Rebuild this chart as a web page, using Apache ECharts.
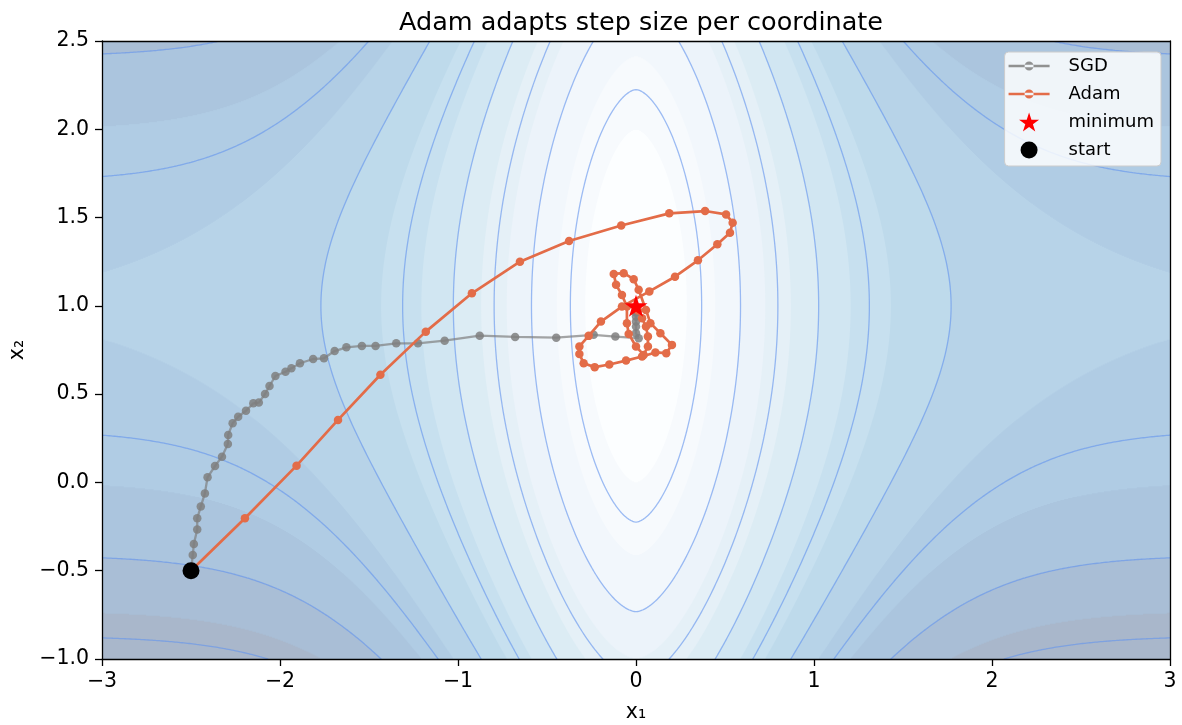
<!DOCTYPE html>
<html>
<head>
<meta charset="utf-8">
<script src="https://cdn.jsdelivr.net/npm/echarts@6/dist/echarts.min.js"></script>
<style>
html,body{margin:0;padding:0;background:#ffffff;}
#chart{width:1182px;height:725px;}
</style>
</head>
<body>
<div id="chart"></div>
<script>
// ---------------- data ----------------
const X_TICKS = [-3, -2, -1, 0, 1, 2, 3];
const X_TICK_LABELS = ['\u22123', '\u22122', '\u22121', '0', '1', '2', '3'];
const Y_TICKS = [-1.0, -0.5, 0.0, 0.5, 1.0, 1.5, 2.0, 2.5];
const Y_TICK_LABELS = ['\u22121.0', '\u22120.5', '0.0', '0.5', '1.0', '1.5', '2.0', '2.5'];

const FILL_LEVELS = [0, 1, 2, 3, 4, 5, 6, 7, 8, 9, 10, 11, 12, 13, 14];
const LINE_LEVELS = [1.5, 3, 4.5, 6, 7.5, 9, 10.5, 12, 13.5];

const SGD_X1 = [-2.5, -2.49, -2.484, -2.465, -2.465, -2.445, -2.422, -2.407, -2.365, -2.326, -2.293, -2.291, -2.266, -2.235, -2.191, -2.15, -2.119, -2.084, -2.059, -2.026, -1.969, -1.936, -1.888, -1.814, -1.753, -1.693, -1.627, -1.54, -1.463, -1.347, -1.225, -1.075, -0.878, -0.679, -0.448, -0.238, -0.116, 0.015, 0.0, 0.0, 0.0, 0.0, 0.0, 0.0, 0.0];
const SGD_X2 = [-0.5, -0.411, -0.349, -0.266, -0.203, -0.137, -0.062, 0.029, 0.093, 0.146, 0.218, 0.269, 0.335, 0.372, 0.406, 0.448, 0.452, 0.501, 0.546, 0.603, 0.627, 0.646, 0.675, 0.699, 0.703, 0.744, 0.765, 0.773, 0.773, 0.788, 0.788, 0.803, 0.831, 0.824, 0.82, 0.836, 0.826, 0.817, 0.845, 0.883, 0.911, 0.94, 0.962, 0.981, 0.99];

const ADAM_X1 = [-2.5, -2.197, -1.907, -1.674, -1.436, -1.181, -0.922, -0.652, -0.376, -0.083, 0.187, 0.388, 0.506, 0.543, 0.528, 0.457, 0.348, 0.219, 0.075, -0.079, -0.197, -0.266, -0.318, -0.318, -0.294, -0.232, -0.150, -0.056, 0.034, 0.109, 0.170, 0.202, 0.137, 0.081, 0.056, 0.015, -0.013, -0.069, -0.125, -0.112, -0.079, -0.051, -0.051, -0.041, 0.0, 0.043, 0.067, 0.067, 0.056, 0.034, 0.011, 0.0];
const ADAM_X2 = [-0.5, -0.203, 0.095, 0.354, 0.61, 0.854, 1.071, 1.25, 1.367, 1.455, 1.524, 1.537, 1.518, 1.471, 1.414, 1.349, 1.258, 1.165, 1.082, 0.996, 0.911, 0.830, 0.770, 0.728, 0.675, 0.653, 0.668, 0.690, 0.713, 0.736, 0.732, 0.779, 0.845, 0.902, 0.977, 1.091, 1.151, 1.185, 1.181, 1.119, 1.062, 0.996, 0.902, 0.841, 0.770, 0.722, 0.770, 0.826, 0.883, 0.930, 0.974, 0.992];

const MINIMUM_POINT = [0, 1];
const START_POINT = [-2.5, -0.5];

// ---------------- objective surface ----------------
const XMIN = -3, XMAX = 3, YMIN = -1, YMAX = 2.5;
function loss(x1, x2) {
  const g = 10 * (1 - Math.exp(-Math.pow(Math.abs(x1), 1.69) / 1.14));
  const h = (x2 - 1) * (x2 - 1);
  return g + h;
}

// Blues colormap (matplotlib), blended with white at alpha
const BLUES = [[247,251,255],[222,235,247],[198,219,239],[158,202,225],[107,174,214],[66,146,198],[33,113,181],[8,81,156],[8,48,107]];
const FILL_ALPHA = 0.35;
function bluesColor(t) {
  t = Math.max(0, Math.min(1, t));
  const p = t * (BLUES.length - 1);
  const i = Math.min(BLUES.length - 2, Math.floor(p));
  const f = p - i;
  const c = [0,1,2].map(k => BLUES[i][k] + (BLUES[i+1][k] - BLUES[i][k]) * f);
  const b = c.map(v => Math.round(255 * (1 - FILL_ALPHA) + v * FILL_ALPHA));
  return 'rgb(' + b.join(',') + ')';
}
const layers = [];
for (let k = 0; k < FILL_LEVELS.length - 1; k++) layers.push((FILL_LEVELS[k] + FILL_LEVELS[k+1]) / 2);
const layerMin = layers[0], layerMax = layers[layers.length - 1];
const bandColors = layers.map(l => bluesColor((l - layerMin) / (layerMax - layerMin)));

// filled-region runs (f >= level), row by row
const NXF = 1200, NYF = 620;
const dxf = (XMAX - XMIN) / NXF, dyf = (YMAX - YMIN) / NYF;
const fgrid = new Float64Array((NXF + 1) * NYF);
for (let j = 0; j < NYF; j++) {
  const y = YMIN + (j + 0.5) * dyf;
  for (let i = 0; i <= NXF; i++) fgrid[j * (NXF + 1) + i] = loss(XMIN + i * dxf, y);
}
function runsFor(L) {
  const runs = [];
  for (let j = 0; j < NYF; j++) {
    const yb = YMIN + j * dyf, yt = yb + dyf;
    const base = j * (NXF + 1);
    let start = null;
    for (let i = 0; i <= NXF; i++) {
      const v = fgrid[base + i];
      const inside = v >= L;
      if (inside && start === null) {
        if (i === 0) start = XMIN;
        else {
          const v0 = fgrid[base + i - 1];
          start = XMIN + (i - 1 + (L - v0) / (v - v0)) * dxf;
        }
      } else if (!inside && start !== null) {
        const v0 = fgrid[base + i - 1];
        const end = XMIN + (i - 1 + (L - v0) / (v - v0)) * dxf;
        runs.push([start, end, yb, yt]);
        start = null;
      }
    }
    if (start !== null) runs.push([start, XMAX, yb, yt]);
  }
  return runs;
}
const fillRuns = [];
for (let k = 0; k < FILL_LEVELS.length - 1; k++) fillRuns.push(runsFor(FILL_LEVELS[k]));

// contour line segments (marching squares)
const NXL = 600, NYL = 350;
const dxl = (XMAX - XMIN) / NXL, dyl = (YMAX - YMIN) / NYL;
const lgrid = new Float64Array((NXL + 1) * (NYL + 1));
for (let j = 0; j <= NYL; j++) for (let i = 0; i <= NXL; i++) lgrid[j * (NXL + 1) + i] = loss(XMIN + i * dxl, YMIN + j * dyl);
function segmentsFor(L) {
  const segs = [];
  for (let j = 0; j < NYL; j++) {
    for (let i = 0; i < NXL; i++) {
      const x0 = XMIN + i * dxl, y0 = YMIN + j * dyl, x1 = x0 + dxl, y1 = y0 + dyl;
      const a = lgrid[j * (NXL + 1) + i], b = lgrid[j * (NXL + 1) + i + 1];
      const c = lgrid[(j + 1) * (NXL + 1) + i + 1], d = lgrid[(j + 1) * (NXL + 1) + i];
      const pts = [];
      if ((a >= L) !== (b >= L)) pts.push([x0 + (L - a) / (b - a) * dxl, y0]);
      if ((b >= L) !== (c >= L)) pts.push([x1, y0 + (L - b) / (c - b) * dyl]);
      if ((c >= L) !== (d >= L)) pts.push([x1 - (L - c) / (d - c) * dxl, y1]);
      if ((d >= L) !== (a >= L)) pts.push([x0, y1 - (L - d) / (a - d) * dyl]);
      if (pts.length === 2) segs.push([pts[0], pts[1]]);
      else if (pts.length === 4) { segs.push([pts[0], pts[1]]); segs.push([pts[2], pts[3]]); }
    }
  }
  return segs;
}
const lineSegs = LINE_LEVELS.map(segmentsFor);

const f2 = v => v.toFixed(2);

// star symbol path
function starPath(cx, cy, R) {
  const r = R * 0.382;
  let d = '';
  for (let k = 0; k < 10; k++) {
    const ang = -Math.PI / 2 + k * Math.PI / 5;
    const rr = k % 2 === 0 ? R : r;
    d += (k === 0 ? 'M' : 'L') + f2(cx + rr * Math.cos(ang)) + ',' + f2(cy + rr * Math.sin(ang));
  }
  return d + 'Z';
}
const STAR_SYMBOL = 'path://' + starPath(50, 52.5, 50);
const LEG_LINE_ICON = 'path://M0,8.7L41,8.7L41,11.3L0,11.3Z M16,10A4.5,4.5 0 1,0 25,10A4.5,4.5 0 1,0 16,10Z M55,10 M0,10';
const LEG_STAR_ICON = 'path://' + starPath(20.5, 10.5, 10.5) + ' M0,10 M55,10';
const LEG_DOT_ICON = 'path://M12,10A8.5,8.5 0 1,0 29,10A8.5,8.5 0 1,0 12,10Z M0,10 M55,10';

const FONT = 'DejaVu Sans';
const TICK_FONT = 20.5;

const chart = echarts.init(document.getElementById('chart'), null, {renderer: 'canvas', width: 1182, height: 725});

const option = {
  animation: false,
  backgroundColor: '#ffffff',
  title: {
    text: 'Adam adapts step size per coordinate',
    left: 636, top: 5, textAlign: 'center',
    textStyle: {fontFamily: FONT, fontSize: 25.5, fontWeight: 'normal', color: '#000'}
  },
  grid: {left: 102, right: 12, top: 41, bottom: 66, containLabel: false, outerBoundsMode: 'none'},
  legend: {
    orient: 'vertical', right: 21, top: 52,
    backgroundColor: 'rgba(255,255,255,0.82)', borderColor: '#cccccc', borderWidth: 1, borderRadius: 4,
    padding: [4, 7, 6, 4], itemWidth: 55, itemHeight: 20, itemGap: 8,
    symbolKeepAspect: true,
    textStyle: {fontFamily: FONT, fontSize: 18, color: '#000', lineHeight: 20},
    data: [
      {name: 'SGD', icon: LEG_LINE_ICON},
      {name: 'Adam', icon: LEG_LINE_ICON},
      {name: 'minimum', icon: LEG_STAR_ICON},
      {name: 'start', icon: LEG_DOT_ICON}
    ]
  },
  xAxis: [{
    type: 'value', min: XMIN, max: XMAX, interval: 1, z: 10,
    name: 'x\u2081', nameLocation: 'middle', nameGap: 43,
    nameTextStyle: {fontFamily: FONT, fontSize: TICK_FONT, color: '#000'},
    axisLine: {show: true, onZero: false, lineStyle: {color: '#000', width: 1.3}},
    axisTick: {show: true, length: 7, lineStyle: {color: '#000', width: 1.3}},
    axisLabel: {fontFamily: FONT, fontSize: TICK_FONT, color: '#000', margin: 12,
      formatter: v => { const i = X_TICKS.findIndex(t => Math.abs(t - v) < 1e-9); return i >= 0 ? X_TICK_LABELS[i] : ''; }},
    splitLine: {show: false}
  }, {
    type: 'value', min: XMIN, max: XMAX, position: 'top', z: 10,
    axisLine: {show: true, onZero: false, lineStyle: {color: '#000', width: 1.3}},
    axisTick: {show: false}, axisLabel: {show: false}, splitLine: {show: false}
  }],
  yAxis: [{
    type: 'value', min: YMIN, max: YMAX, interval: 0.5, z: 10,
    name: 'x\u2082', nameLocation: 'middle', nameGap: 74, nameRotate: 90,
    nameTextStyle: {fontFamily: FONT, fontSize: TICK_FONT, color: '#000'},
    axisLine: {show: true, onZero: false, lineStyle: {color: '#000', width: 1.3}},
    axisTick: {show: true, length: 7, lineStyle: {color: '#000', width: 1.3}},
    axisLabel: {fontFamily: FONT, fontSize: TICK_FONT, color: '#000', margin: 13,
      formatter: v => { const i = Y_TICKS.findIndex(t => Math.abs(t - v) < 1e-9); return i >= 0 ? Y_TICK_LABELS[i] : ''; }},
    splitLine: {show: false}
  }, {
    type: 'value', min: YMIN, max: YMAX, position: 'right', z: 10,
    axisLine: {show: true, onZero: false, lineStyle: {color: '#000', width: 1.3}},
    axisTick: {show: false}, axisLabel: {show: false}, splitLine: {show: false}
  }],
  series: [
    {
      name: 'surface', type: 'custom', coordinateSystem: 'cartesian2d', xAxisIndex: 0, yAxisIndex: 0,
      clip: true, silent: true, z: 1,
      encode: {x: 0, y: 1},
      data: bandColors.map((c, k) => [0, 0, k]),
      renderItem: function (params, api) {
        const k = api.value(2);
        const runs = fillRuns[k];
        if (!runs.length) return {type: 'group', children: []};
        let d = '';
        for (const r of runs) {
          const p0 = api.coord([r[0], r[3]]);
          const p1 = api.coord([r[1], r[2]]);
          const yt = f2(p0[1] - 0.4), yb = f2(p1[1] + 0.4);
          d += 'M' + f2(p0[0]) + ',' + yt + 'L' + f2(p1[0]) + ',' + yt + 'L' + f2(p1[0]) + ',' + yb + 'L' + f2(p0[0]) + ',' + yb + 'Z';
        }
        return {type: 'path', z2: k, shape: {pathData: d}, style: {fill: bandColors[k], stroke: null}};
      }
    },
    {
      name: 'contours', type: 'custom', coordinateSystem: 'cartesian2d', xAxisIndex: 0, yAxisIndex: 0,
      clip: true, silent: true, z: 2,
      encode: {x: 0, y: 1},
      data: LINE_LEVELS.map((L, k) => [0, 0, k]),
      renderItem: function (params, api) {
        const k = api.value(2);
        const segs = lineSegs[k];
        if (!segs.length) return {type: 'group', children: []};
        let d = '';
        for (const s of segs) {
          const p = api.coord(s[0]), q = api.coord(s[1]);
          d += 'M' + f2(p[0]) + ',' + f2(p[1]) + 'L' + f2(q[0]) + ',' + f2(q[1]);
        }
        return {type: 'path', shape: {pathData: d}, style: {fill: null, stroke: 'rgba(100,149,237,0.62)', lineWidth: 1.3, lineCap: 'round', lineJoin: 'round'}};
      }
    },
    {
      name: 'SGD', type: 'line', z: 3, xAxisIndex: 0, yAxisIndex: 0,
      data: SGD_X1.map((x, i) => [x, SGD_X2[i]]),
      symbol: 'circle', symbolSize: 8.5, showSymbol: true, showAllSymbol: true,
      color: '#7f7f7f',
      lineStyle: {color: '#7f7f7f', width: 2.3, opacity: 0.7},
      itemStyle: {color: '#7f7f7f', opacity: 0.85, borderWidth: 0},
      emphasis: {disabled: true}
    },
    {
      name: 'Adam', type: 'line', z: 4, xAxisIndex: 0, yAxisIndex: 0,
      data: ADAM_X1.map((x, i) => [x, ADAM_X2[i]]),
      symbol: 'circle', symbolSize: 8.5, showSymbol: true, showAllSymbol: true,
      color: '#e36c48',
      lineStyle: {color: '#e36c48', width: 2.7, opacity: 1},
      itemStyle: {color: '#e36c48', opacity: 1, borderWidth: 0},
      emphasis: {disabled: true}
    },
    {
      name: 'minimum', type: 'scatter', z: 6, xAxisIndex: 0, yAxisIndex: 0,
      data: [MINIMUM_POINT], symbol: STAR_SYMBOL, symbolSize: [23, 22],
      color: '#ff0000', itemStyle: {color: '#ff0000', opacity: 1, borderWidth: 0}, emphasis: {disabled: true}
    },
    {
      name: 'start', type: 'scatter', z: 6, xAxisIndex: 0, yAxisIndex: 0,
      data: [START_POINT], symbol: 'circle', symbolSize: 17,
      color: '#000000', itemStyle: {color: '#000000', opacity: 1, borderWidth: 0}, emphasis: {disabled: true}
    }
  ]
};
chart.setOption(option);
</script>
</body>
</html>
